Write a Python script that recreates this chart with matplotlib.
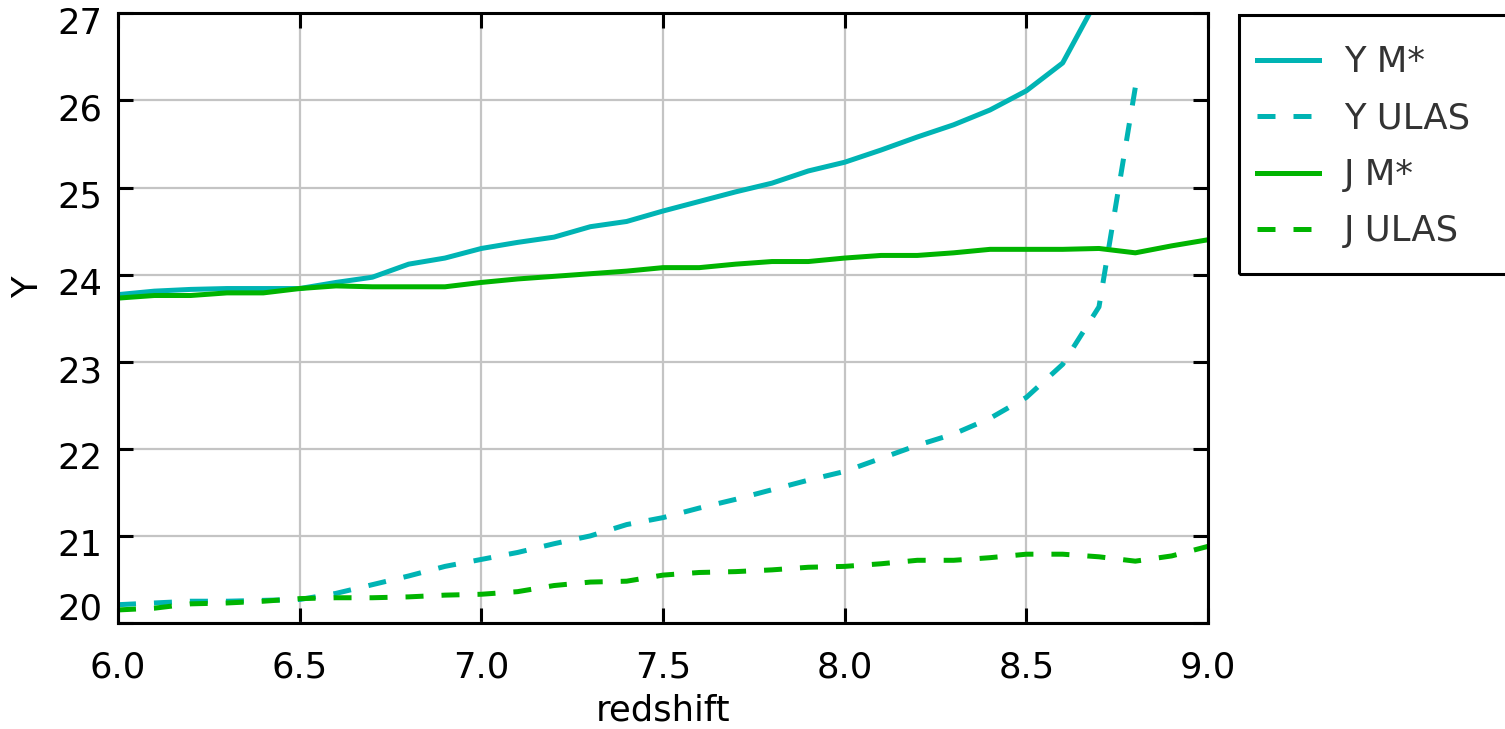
import matplotlib
matplotlib.use("Agg")
import matplotlib.pyplot as plt
import matplotlib.transforms as mtransforms
from matplotlib.patches import Rectangle

plt.rcParams['font.family'] = ['DejaVu Sans']

# ---- data ----
redshift = [6.0, 6.1, 6.2, 6.3, 6.4, 6.5, 6.6, 6.7, 6.8, 6.9,
            7.0, 7.1, 7.2, 7.3, 7.4, 7.5, 7.6, 7.7, 7.8, 7.9,
            8.0, 8.1, 8.2, 8.3, 8.4, 8.5, 8.6, 8.7, 8.8, 8.9, 9.0]

y_mstar = [23.77, 23.81, 23.83, 23.84, 23.84, 23.84, 23.91, 23.97, 24.12, 24.19,
           24.30, 24.37, 24.43, 24.55, 24.61, 24.73, 24.84, 24.95, 25.05, 25.19,
           25.29, 25.43, 25.58, 25.72, 25.89, 26.11, 26.43, 27.20]

y_ulas = [20.21, 20.23, 20.25, 20.25, 20.26, 20.27, 20.34, 20.44, 20.54, 20.65,
          20.73, 20.81, 20.91, 21.00, 21.13, 21.21, 21.32, 21.42, 21.53, 21.64,
          21.74, 21.89, 22.04, 22.17, 22.35, 22.59, 22.97, 23.63, 26.15]

j_mstar = [23.73, 23.76, 23.76, 23.79, 23.79, 23.84, 23.87, 23.86, 23.86, 23.86,
           23.91, 23.95, 23.98, 24.01, 24.04, 24.08, 24.08, 24.12, 24.15, 24.15,
           24.19, 24.22, 24.22, 24.25, 24.29, 24.29, 24.29, 24.30, 24.25, 24.33, 24.40]

j_ulas = [20.15, 20.17, 20.22, 20.23, 20.25, 20.28, 20.29, 20.29, 20.30, 20.32,
          20.33, 20.36, 20.43, 20.47, 20.48, 20.55, 20.58, 20.59, 20.61, 20.64,
          20.65, 20.68, 20.72, 20.72, 20.75, 20.79, 20.79, 20.76, 20.71, 20.77, 20.88]

series_labels = ["Y M*", "Y ULAS", "J M*", "J ULAS"]
x_ticks = [6.0, 6.5, 7.0, 7.5, 8.0, 8.5, 9.0]
x_tick_labels = ["6.0", "6.5", "7.0", "7.5", "8.0", "8.5", "9.0"]
y_ticks = [20, 21, 22, 23, 24, 25, 26, 27]
y_tick_labels = ["20", "21", "22", "23", "24", "25", "26", "27"]

# ---- style ----
W, H, DPI = 1505, 729, 100
CYAN = "#00b4b4"
GREEN = "#00b400"
LW = 3.6
DASH = (0, (3.6, 3.6))
FS = 25.5

fig = plt.figure(figsize=(W / DPI, H / DPI), dpi=DPI)
ax_l, ax_r, ax_t, ax_b = 118, 1208, 13.3, 623
ax = fig.add_axes([ax_l / W, 1 - ax_b / H, (ax_r - ax_l) / W, (ax_b - ax_t) / H])

n = len
ax.plot(redshift[:n(y_mstar)], y_mstar, color=CYAN, lw=LW, label=series_labels[0])
ax.plot(redshift[:n(y_ulas)], y_ulas, color=CYAN, lw=LW, ls=DASH, label=series_labels[1])
ax.plot(redshift, j_mstar, color=GREEN, lw=LW, label=series_labels[2])
ax.plot(redshift, j_ulas, color=GREEN, lw=LW, ls=DASH, label=series_labels[3])

ax.set_xlim(6.0, 9.0)
ax.set_ylim(20.0, 27.0)

ax.grid(True, color="#c4c4c4", lw=1.6)
ax.set_axisbelow(True)
for s in ax.spines.values():
    s.set_linewidth(2.2)
    s.set_color("black")

ax.set_xticks(x_ticks, x_tick_labels)
ax.set_yticks(y_ticks, y_tick_labels)
ax.tick_params(axis='both', which='major', direction='in', length=10.5, width=2.2,
               top=True, right=True, labelsize=FS, colors='black')
ax.tick_params(axis='x', pad=20)
ax.tick_params(axis='y', pad=11.5)

# vertical placement of y tick labels
for t in ax.yaxis.get_major_ticks():
    t.label1.set_va('center')
for lab, val in zip(ax.get_yticklabels(), y_ticks):
    if val == y_ticks[0]:
        dy = 13.5 / DPI
    else:
        dy = -10.5 / DPI
    lab.set_transform(lab.get_transform() +
                      mtransforms.ScaledTranslation(0, dy, fig.dpi_scale_trans))

ax.set_xlabel("redshift", fontsize=FS)
ax.xaxis.set_label_coords(0.5, (ax_b - 710.5) / (ax_b - ax_t))
ax.xaxis.label.set_va('center')
ax.set_ylabel("Y", fontsize=FS)
ax.yaxis.set_label_coords((28.5 - ax_l) / (ax_r - ax_l), (ax_b - 287) / (ax_b - ax_t))
ax.yaxis.label.set_va('center')

# legend frame (extends past the figure edge)
fig.patches.append(Rectangle((1239 / W, 1 - 274 / H), 0.25, (274 - 14.7) / H,
                             transform=fig.transFigure, fill=False, ec='black', lw=2.2,
                             clip_on=False))
leg = fig.legend(loc='upper left', bbox_to_anchor=(1257 / W, 1 - 45 / H),
                 frameon=False, fontsize=FS, handlelength=1.74, handletextpad=0.72,
                 labelspacing=0.635, borderpad=0, borderaxespad=0)
for txt in leg.get_texts():
    txt.set_color('#333333')

fig.savefig("out.png", dpi=DPI)
